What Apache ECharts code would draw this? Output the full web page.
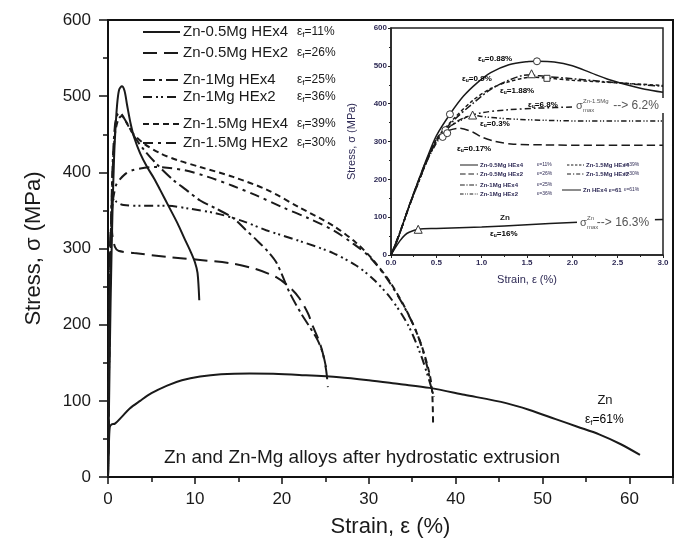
<!DOCTYPE html>
<html><head><meta charset="utf-8">
<script src="https://cdn.jsdelivr.net/npm/echarts@6/dist/echarts.min.js"></script>
<style>html,body{margin:0;padding:0;background:#fff}#c{width:680px;height:549px}</style>
</head><body><div id="c"></div>
<script>
// ---------- DATA ----------
const seriesNames = ['Zn-0.5Mg HEx4','Zn-0.5Mg HEx2','Zn-1Mg HEx4','Zn-1Mg HEx2','Zn-1.5Mg HEx4','Zn-1.5Mg HEx2','Zn'];
const fractureStrain = ['11%','26%','25%','36%','39%','30%','61%'];
const mainXTicks = [0,10,20,30,40,50,60];
const mainYTicks = [0,100,200,300,400,500,600];
const insetXTicks = [0.0,0.5,1.0,1.5,2.0,2.5,3.0];

// main chart: [strain %, stress MPa]
const zn05HEx4 = [[0,0],[0.15,120],[0.3,230],[0.5,340],[0.7,420],[0.9,465],[1.1,495],[1.3,509],[1.6,513],[1.9,507],[2.2,488],[2.6,464],[3.0,446],[3.7,425],[4.5,407],[5.3,392],[6.0,377],[7.0,355],[8.0,333],[8.8,313],[9.5,296],[10.0,282],[10.3,268],[10.5,232]];
const zn05HEx2 = [[0,0],[0.1,160],[0.2,280],[0.3,325],[0.4,332],[0.5,318],[0.8,302],[1.2,297],[3,294],[6.8,289],[10.6,285],[14.4,280],[17,273],[19.4,262],[21,248],[22,235],[23,215],[23.6,197],[24.3,178],[24.7,163],[25.1,140],[25.3,118]];
const zn1HEx4 = [[0,0],[0.2,230],[0.5,400],[0.8,462],[1.1,476],[1.4,478],[1.8,472],[2.5,458],[3.2,444],[4.1,430],[5.5,412],[7.5,390],[9,377],[10.6,363],[12.5,352],[14.4,340],[15.8,325],[17.1,311],[18.4,296],[19.4,281],[20.9,242],[22.2,215],[23.2,197],[24.1,180],[24.7,163],[25.1,143]];
const zn1HEx2 = [[0,0],[0.2,220],[0.4,340],[0.7,366],[1.0,361],[1.8,357],[4,356],[6.8,356],[9.5,352],[12.5,346],[15.5,336],[18.2,324],[22,310],[25.9,294],[28.5,278],[30.5,260],[32.5,235],[34.5,200],[36,160],[37,125],[37.5,105]];
const zn15HEx4 = [[0,0],[0.2,220],[0.5,390],[0.8,450],[1.2,470],[1.6,474],[2.0,468],[2.8,452],[4.1,438],[6,425],[8,416],[10.6,407],[14.4,394],[18.3,377],[22,354],[25.9,330],[28.5,308],[30.5,285],[32.5,255],[34.5,215],[36,175],[37,135],[37.3,110],[37.4,68]];
const zn15HEx2 = [[0,0],[0.2,220],[0.4,350],[0.7,372],[1.0,385],[2,398],[2.9,403],[5.2,407],[8.7,403],[11.5,394],[14.4,382],[17,370],[20.1,354],[23,340],[25.9,324],[28,308],[30,290],[32,262],[34,225],[35.5,190],[36.5,155],[37.1,125]];
const znPure = [[0,0],[0.1,40],[0.2,65],[0.4,69],[0.8,70],[1.5,78],[2.5,90],[3.7,100],[5,110],[6.8,120],[8.5,127],[10.6,132],[13,135],[16.3,136],[19,135.5],[22,134],[26.6,131],[30,127],[33.5,122],[37,117],[41,108],[45.8,97],[48.5,88],[51.5,76],[54,66],[56.5,56],[59,43],[61.2,29]];

// inset (0-3 % strain)
const inZn05HEx4 = [[0,0],[0.05,25],[0.1,60],[0.2,130],[0.3,195],[0.4,258],[0.5,315],[0.65,372],[0.8,420],[0.95,455],[1.1,482],[1.3,503],[1.5,511],[1.62,512],[1.8,510],[2.0,500],[2.2,482],[2.4,464],[2.6,450],[2.8,438],[3.0,430]];
const inZn05HEx2 = [[0,0],[0.1,60],[0.2,130],[0.3,195],[0.4,255],[0.5,300],[0.6,325],[0.75,335],[0.9,325],[1.0,312],[1.15,300],[1.35,293],[1.7,291],[2.2,290],[3.0,290]];
const inZn1HEx4 = [[0,0],[0.1,60],[0.2,128],[0.3,190],[0.4,252],[0.5,305],[0.7,358],[0.9,400],[1.1,438],[1.3,462],[1.5,476],[1.7,472],[2.0,466],[2.5,455],[3.0,446]];
const inZn1HEx2 = [[0,0],[0.1,62],[0.2,130],[0.4,250],[0.6,330],[0.8,360],[0.9,370],[1.0,366],[1.3,360],[1.7,356],[2.2,354],[3.0,354]];
const inZn15HEx4 = [[0,0],[0.1,60],[0.2,128],[0.3,190],[0.5,305],[0.7,362],[0.9,408],[1.1,440],[1.3,458],[1.55,470],[1.75,467],[2.0,462],[2.5,455],[3.0,448]];
const inZn15HEx2 = [[0,0],[0.1,60],[0.2,128],[0.3,192],[0.5,300],[0.65,340],[0.8,362],[1.0,376],[1.3,384],[1.6,388],[2.0,391],[2.5,393],[3.0,394]];
const inZnPure = [[0,0],[0.05,20],[0.1,38],[0.15,52],[0.2,60],[0.3,68],[0.5,70],[1.0,74],[1.5,80],[2.0,86],[2.5,91],[3.0,94]];
const inCircles = [[0.65,372],[1.61,512],[0.6,330],[0.57,312],[0.62,322]];
const inTriangles = [[0.3,68],[1.55,479],[0.9,370]];
const inSquares = [[1.72,467]];

// ---------- STYLES ----------
const dashes = ['solid',[14,7],[12,4,3,4],[9,4,2,3,2,4],[6,4],[10,5,3,5],'solid'];
const mainData = [zn05HEx4,zn05HEx2,zn1HEx4,zn1HEx2,zn15HEx4,zn15HEx2,znPure];
const insetData = [inZn05HEx4,inZn05HEx2,inZn1HEx4,inZn1HEx2,inZn15HEx4,inZn15HEx2,inZnPure];
const FONT = 'Liberation Sans, Arial, sans-serif';
const INK = '#1a1a1a';
const NAVY = '#2e2a55';

const chart = echarts.init(document.getElementById('c'), null, {renderer:'canvas'});

const series = [];
mainData.forEach((d,i)=>{
  series.push({type:'line', name:seriesNames[i], data:d, xAxisIndex:0, yAxisIndex:0, showSymbol:false, symbol:'none',
    smooth:0.3, z:2, lineStyle:{color:INK, width:2, type:dashes[i]}, animation:false});
});
insetData.forEach((d,i)=>{
  series.push({type:'line', name:'in'+seriesNames[i], data:d, xAxisIndex:1, yAxisIndex:1, showSymbol:false, symbol:'none',
    smooth:0.3, z:10, lineStyle:{color:INK, width:1.5, type: Array.isArray(dashes[i]) ? dashes[i].map(v=>v*0.6) : dashes[i]}, animation:false});
});
[[inCircles,'circle',7],[inTriangles,'triangle',8],[inSquares,'rect',6]].forEach(([d,sym,sz])=>{
  series.push({type:'scatter', data:d, xAxisIndex:1, yAxisIndex:1, symbol:sym, symbolSize:sz, z:11,
    itemStyle:{color:'#fff', borderColor:'#333', borderWidth:1, opacity:1}, animation:false});
});

// legend graphics (main)
const graphics = [];
const legRowsY = [32,53,80,97,124,143];
for (let i=0;i<6;i++){
  const y = legRowsY[i];
  graphics.push({type:'line', shape:{x1:143,y1:y,x2:180,y2:y}, style:{stroke:INK, lineWidth:2, lineDash: dashes[i]==='solid'?null:dashes[i]}, z:20});
  graphics.push({type:'text', x:183, y:y, style:{text:seriesNames[i], font:'15px '+FONT, fill:INK, verticalAlign:'middle'}, z:20});
  graphics.push({type:'text', x:297, y:y, style:{text:'{e|ε}{s|f}{e|='+fractureStrain[i]+'}', verticalAlign:'middle',
    rich:{e:{fontSize:12, fontFamily:FONT, fill:INK, color:INK}, s:{fontSize:8, fontFamily:FONT, color:INK, padding:[6,0,0,0]}}}, z:20});
}
// inset legend (tiny)
const inLegL = [[0,165],[1,174],[2,185],[3,194]];
inLegL.forEach(([i,y])=>{
  graphics.push({type:'line', shape:{x1:460,y1:y,x2:478,y2:y}, style:{stroke:INK, lineWidth:1, lineDash: dashes[i]==='solid'?null:dashes[i].map(v=>v*0.4)}, z:20});
  graphics.push({type:'text', x:480, y:y, style:{text:seriesNames[i], font:'bold 6px '+FONT, fill:NAVY, verticalAlign:'middle'}, z:20});
  graphics.push({type:'text', x:537, y:y, style:{text:'ε='+fractureStrain[i], font:'5px '+FONT, fill:NAVY, verticalAlign:'middle'}, z:20});
});
const inLegR = [[4,165],[5,174],[6,190]];
inLegR.forEach(([i,y])=>{
  graphics.push({type:'line', shape:{x1:(i===6?562:567),y1:y,x2:(i===6?581:584),y2:y}, style:{stroke:INK, lineWidth:1, lineDash: dashes[i]==='solid'?null:dashes[i].map(v=>v*0.4)}, z:20});
  graphics.push({type:'text', x:(i===6?583:586), y:y, style:{text:(i===6?'Zn HEx4 ε=61':seriesNames[i]), font:'bold 6px '+FONT, fill:NAVY, verticalAlign:'middle'}, z:20});
  graphics.push({type:'text', x:624, y:y, style:{text:'ε='+fractureStrain[i], font:'5px '+FONT, fill:NAVY, verticalAlign:'middle'}, z:20});
});
// inset annotations
const ann = (x,y,main,sub,rest,color)=>({type:'text', x:x, y:y, z:21, style:{text:'{a|'+main+'}{b|'+sub+'}{a|'+rest+'}', verticalAlign:'middle',
  rich:{a:{fontSize:8, fontWeight:'bold', fontFamily:FONT, color:color||'#222'}, b:{fontSize:5, fontWeight:'bold', fontFamily:FONT, color:color||'#222', padding:[4,0,0,0]}}}});
graphics.push(ann(478,59,'ε','u','=0.88%'));
graphics.push(ann(462,79,'ε','u','=0.9%','#9a5a1a'));
graphics.push(ann(500,91,'ε','u','=1.88%'));
graphics.push(ann(528,105,'ε','u','=6.8%'));
graphics.push(ann(480,124,'ε','u','=0.3%','#9a5a1a'));
graphics.push(ann(457,149,'ε','u','=0.17%'));
graphics.push(ann(490,234,'ε','u','=16%'));
graphics.push({type:'text', x:500, y:218, z:21, style:{text:'Zn', font:'bold 8px '+FONT, fill:'#222', verticalAlign:'middle'}});
// sigma max labels (with white background over curve)
const sig = (x,y,sup,rest)=>[
  {type:'rect', shape:{x:x-3,y:y-8,width:rest.length*6.3+ (sup.length*3.6)+14,height:15}, style:{fill:'#fff'}, z:21},
  {type:'text', x:x, y:y, z:22, style:{text:'σ', font:'11px '+FONT, fill:'#555', verticalAlign:'middle'}},
  {type:'text', x:x+7, y:y-5, z:22, style:{text:sup, font:'6px '+FONT, fill:'#555', verticalAlign:'middle'}},
  {type:'text', x:x+7, y:y+4, z:22, style:{text:'max', font:'6px '+FONT, fill:'#555', verticalAlign:'middle'}},
  {type:'text', x:x+(sup.length*3.4)+10, y:y, z:22, style:{text:rest, font:'12px '+FONT, fill:'#555', verticalAlign:'middle'}}
];
graphics.push(...sig(576,106,'Zn-1.5Mg','--> 6.2%'));
graphics.push(...sig(580,223,'Zn','--> 16.3%'));
// main annotations
graphics.push({type:'text', x:362, y:458, z:20, style:{text:'Zn and Zn-Mg alloys after hydrostatic extrusion', font:'19px '+FONT, fill:INK, align:'center', verticalAlign:'middle'}});
graphics.push({type:'text', x:605, y:400, z:20, style:{text:'Zn', font:'13px '+FONT, fill:INK, align:'center', verticalAlign:'middle'}});
graphics.push({type:'text', x:585, y:420, z:20, style:{text:'{e|ε}{s|f}{e|=61%}', verticalAlign:'middle',
  rich:{e:{fontSize:12, fontFamily:FONT, color:INK}, s:{fontSize:8, fontFamily:FONT, color:INK, padding:[6,0,0,0]}}}});

const mainLabel = {fontSize:17, fontFamily:FONT, color:INK};
const option = {
  backgroundColor:'#fff',
  animation:false,
  grid:[
    {left:108, top:20, right:7, bottom:72, show:true, borderColor:'#111', borderWidth:2, containLabel:false},
    {left:391, top:28, right:17, bottom:294, show:true, borderColor:'#222', borderWidth:1.5, backgroundColor:'#fff', z:5}
  ],
  xAxis:[
    {type:'value', gridIndex:0, min:0, max:65, interval:10, name:'Strain, ε (%)', nameLocation:'middle', nameGap:39,
      nameTextStyle:{fontSize:22, fontFamily:FONT, color:INK},
      axisLine:{lineStyle:{color:'#111', width:2}}, axisTick:{length:7, lineStyle:{width:1.5, color:'#111'}},
      minorTick:{show:true, splitNumber:2, length:5, lineStyle:{color:'#111', width:1.5}},
      axisLabel:{...mainLabel, margin:14, showMaxLabel:false, formatter:v=>mainXTicks.includes(v)?String(v):''}, splitLine:{show:false}},
    {type:'value', gridIndex:1, min:0, max:3, interval:0.5, name:'Strain, ε (%)', nameLocation:'middle', nameGap:19, z:6,
      nameTextStyle:{fontSize:11, fontFamily:FONT, color:NAVY},
      axisLine:{lineStyle:{color:'#222', width:1.5}}, axisTick:{length:3, lineStyle:{color:'#222'}},
      minorTick:{show:true, splitNumber:2, length:2, lineStyle:{color:'#222'}},
      axisLabel:{fontSize:8, fontWeight:'bold', fontFamily:FONT, color:NAVY, margin:4, formatter:v=>insetXTicks.includes(v)?v.toFixed(1):''}, splitLine:{show:false}}
  ],
  yAxis:[
    {type:'value', gridIndex:0, min:0, max:600, interval:100, name:'Stress, σ (MPa)', nameLocation:'middle', nameGap:63,
      nameTextStyle:{fontSize:22, fontFamily:FONT, color:INK},
      axisLine:{lineStyle:{color:'#111', width:2}}, axisTick:{length:9, lineStyle:{width:1.5, color:'#111'}},
      minorTick:{show:true, splitNumber:2, length:5, lineStyle:{color:'#111', width:1.5}},
      axisLabel:{...mainLabel, margin:17, formatter:v=>mainYTicks.includes(v)?String(v):''}, splitLine:{show:false}},
    {type:'value', gridIndex:1, min:0, max:600, interval:100, name:'Stress, σ (MPa)', nameLocation:'middle', nameGap:34, z:6,
      nameTextStyle:{fontSize:11, fontFamily:FONT, color:NAVY},
      axisLine:{lineStyle:{color:'#222', width:1.5}}, axisTick:{length:3, lineStyle:{color:'#222'}},
      minorTick:{show:true, splitNumber:2, length:2, lineStyle:{color:'#222'}},
      axisLabel:{fontSize:8, fontWeight:'bold', fontFamily:FONT, color:NAVY, margin:4}, splitLine:{show:false}}
  ],
  series: series,
  graphic: graphics
};
chart.setOption(option);
</script></body></html>
